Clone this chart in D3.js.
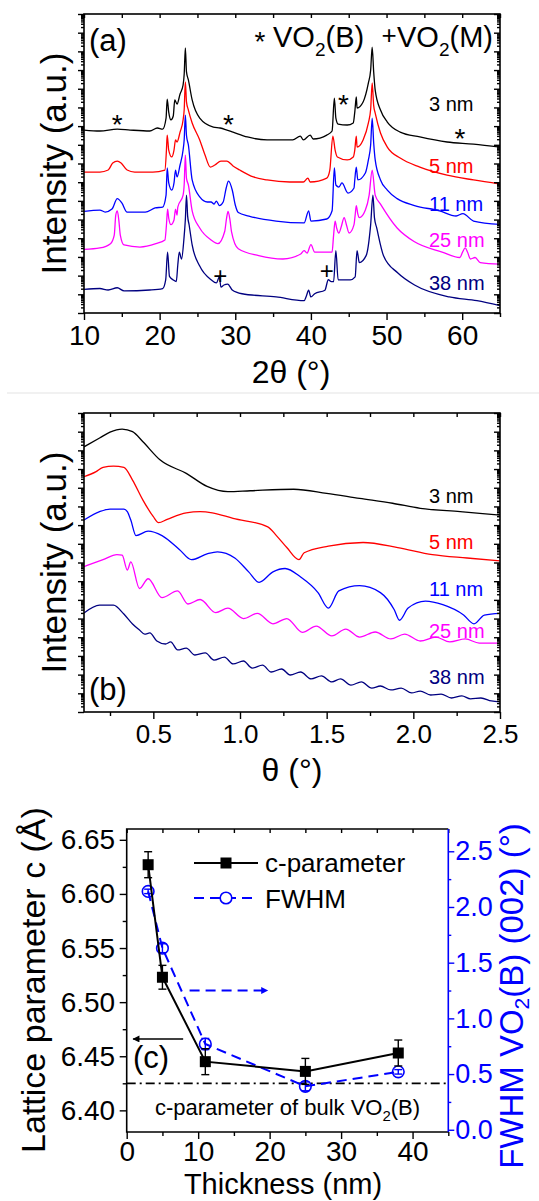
<!DOCTYPE html>
<html>
<head>
<meta charset="utf-8">
<script src="https://cdn.jsdelivr.net/npm/d3@7"></script>
<style>
  body { margin: 0; background: #fff; }
  svg { display: block; font-family: "Liberation Sans", Arial, sans-serif; }
</style>
</head>
<body>
<svg id="fig" width="539" height="1201"></svg>
<script>
// ---- data -------------------------------------------------------------
// (a) XRD, [2theta (deg), log10 intensity (decades, offset per film)]
var xrd3nm = [[10,9.79],[12.1,9.74],[14.4,9.84],[16.1,9.79],[18.7,9.74],[19.7,9.9],[20.4,9.84],[20.85,10.43],[21.0,11.45],[21.2,10.75],[21.5,10.33],[21.8,10.54],[22.0,11.4],[22.3,11.18],[22.7,11.72],[23.1,12.2],[23.25,12.8],[23.4,14.18],[23.55,12.9],[23.8,12.47],[24.3,11.4],[25.3,10.43],[27.1,9.95],[28.0,9.9],[28.9,9.79],[29.7,9.68],[31.6,9.42],[34.2,9.26],[37.6,9.26],[38.6,9.47],[39.0,9.26],[39.9,9.52],[40.3,9.31],[42.1,9.52],[42.8,9.74],[43.1,11.5],[43.3,10.43],[43.6,10.11],[44.8,10.06],[45.6,10.17],[45.8,10.75],[46.0,11.56],[46.1,10.97],[46.9,11.29],[47.6,12.31],[47.9,13.0],[48.1,14.23],[48.3,12.9],[48.5,11.93],[49.2,10.86],[50.1,10.22],[51.8,9.68],[54.4,9.42],[58.0,9.15],[61.5,9.04],[65,8.88]];
var xrd5nm = [[10,7.54],[12.1,7.54],[13.2,7.65],[13.8,8.03],[14.4,8.13],[14.9,8.03],[15.7,7.65],[16.7,7.54],[19.1,7.54],[20.7,7.65],[20.9,8.72],[21.0,9.52],[21.2,8.72],[21.6,8.35],[21.9,8.72],[22.1,9.26],[22.3,9.15],[22.7,9.68],[23.1,10.33],[23.25,10.9],[23.4,12.36],[23.55,11.3],[23.8,10.86],[24.3,10.17],[25.3,9.26],[26.0,8.45],[26.7,7.81],[27.3,7.92],[28.1,8.13],[28.9,8.13],[29.7,7.87],[30.6,7.65],[32.4,7.28],[34.2,7.12],[37.2,7.01],[39.0,7.01],[39.6,7.22],[39.9,7.01],[42.1,7.22],[42.5,7.65],[42.9,9.47],[43.2,8.72],[43.5,8.35],[44.8,8.19],[45.6,8.35],[45.8,8.72],[46.0,9.47],[46.1,8.88],[46.9,9.26],[47.6,10.17],[47.9,10.9],[48.1,12.31],[48.3,11.1],[48.5,10.7],[49.2,9.63],[50.1,8.88],[51.8,8.29],[54.4,7.81],[58.0,7.38],[61.5,7.12],[65,6.9]];
var xrd11nm = [[10,5.44],[12.1,5.51],[12.8,5.4],[13.7,5.56],[14.4,6.12],[15.0,5.89],[15.7,5.4],[18.1,5.4],[19.4,5.62],[20.4,5.67],[20.85,6.31],[21.0,7.76],[21.2,6.96],[21.6,6.58],[21.9,6.96],[22.1,7.65],[22.3,7.28],[22.7,7.92],[23.1,8.72],[23.25,9.3],[23.4,10.59],[23.55,9.5],[23.8,8.99],[24.3,7.12],[25.3,6.21],[26.3,5.94],[26.8,5.94],[27.2,5.83],[27.5,5.99],[27.9,5.75],[28.4,5.94],[28.8,6.69],[29.1,7.06],[29.6,6.58],[30.0,5.78],[30.4,5.38],[31.8,5.19],[35.4,4.92],[39.1,4.82],[39.7,5.47],[40.0,4.92],[42.1,5.03],[42.8,5.47],[43.1,7.76],[43.3,6.85],[43.7,6.74],[44.1,6.96],[44.9,6.42],[45.7,6.69],[45.8,7.12],[46.0,7.81],[46.2,7.12],[47.2,7.49],[47.6,8.19],[47.9,9.0],[48.1,10.43],[48.3,9.1],[48.5,8.19],[49.2,7.12],[50.1,6.58],[51.4,6.12],[53.7,5.75],[57.0,5.47],[59.2,5.19],[60.1,5.32],[61.5,4.92],[65,4.74]];
var xrd25nm = [[10,3.4],[12.1,3.48],[13.5,3.71],[14.0,4.17],[14.2,5.24],[14.4,5.47],[14.6,4.98],[14.8,4.17],[15.3,3.64],[17.4,3.53],[19.5,3.71],[20.7,3.91],[20.9,4.71],[21.05,5.56],[21.2,5.08],[21.5,4.73],[21.9,4.98],[22.1,5.56],[22.3,5.24],[22.4,5.67],[23.1,6.31],[23.25,6.9],[23.4,8.45],[23.55,7.2],[23.8,6.85],[24.3,5.47],[25.3,4.55],[26.8,3.91],[27.7,3.71],[28.6,4.36],[28.85,5.08],[29.05,5.44],[29.3,4.98],[29.5,4.36],[30.4,3.44],[33.1,3.07],[36.3,2.89],[38.65,3.16],[39.1,3.34],[39.5,3.21],[40.0,3.66],[40.5,3.26],[42.8,3.26],[43.0,4.17],[43.2,4.92],[43.4,4.55],[43.7,4.28],[44.0,4.6],[44.4,5.1],[44.7,4.71],[45.05,4.28],[45.7,4.73],[45.85,5.24],[46.0,5.75],[46.2,5.3],[46.4,5.1],[47.2,5.51],[47.7,6.31],[48.1,7.65],[48.5,6.31],[49.2,5.83],[51.4,4.55],[53.7,3.81],[57.35,3.26],[59.7,2.97],[60.05,3.26],[60.4,3.48],[60.7,3.26],[61.1,2.89],[61.7,2.97],[62.4,2.7],[65,2.61]];
var xrd38nm = [[10,1.26],[12.1,1.31],[13.2,1.23],[14.4,1.35],[15.3,1.18],[18.7,1.23],[20.4,1.31],[20.8,1.77],[21.05,3.26],[21.3,1.96],[21.8,1.77],[22.2,1.68],[22.4,2.57],[22.6,3.26],[22.9,2.89],[23.2,3.91],[23.4,5.0],[23.55,6.31],[23.7,5.2],[23.9,4.71],[24.3,3.64],[25.3,2.51],[26.8,1.78],[27.5,1.61],[27.9,1.93],[28.1,1.39],[28.5,1.5],[29.0,1.55],[29.6,1.23],[30.9,1.03],[35.4,0.86],[39.1,0.66],[39.4,0.91],[39.7,1.22],[40.0,0.86],[40.5,1.03],[41.85,1.22],[42.3,1.78],[42.7,1.68],[43.0,1.68],[43.3,3.34],[43.6,1.78],[45.2,1.77],[45.85,1.93],[46.1,3.34],[46.4,2.7],[47.3,3.07],[47.9,4.73],[48.2,6.31],[48.4,5.1],[48.7,4.55],[49.6,3.07],[51.5,2.14],[53.7,1.5],[58.3,0.86],[61.95,0.66],[65,0.39]];

// (b) XRR, [theta (deg), log10 intensity]
var xrr3nm = [[0.1,14.19],[0.19,14.66],[0.25,14.98],[0.32,15.14],[0.38,15.0],[0.44,14.46],[0.54,13.48],[0.69,12.77],[0.81,12.07],[0.93,11.79],[1.06,11.84],[1.31,11.92],[1.5,11.7],[1.69,11.43],[1.88,11.17],[2.04,10.9],[2.27,10.72],[2.5,10.54]];
var xrr5nm = [[0.1,12.59],[0.17,12.86],[0.21,13.09],[0.27,13.16],[0.33,13.09],[0.38,12.41],[0.44,11.34],[0.5,10.45],[0.53,10.13],[0.58,10.31],[0.69,10.66],[0.77,10.72],[0.84,10.66],[0.96,10.36],[1.16,9.91],[1.21,9.44],[1.27,8.8],[1.34,8.15],[1.37,8.52],[1.51,8.88],[1.71,9.07],[1.91,8.8],[2.11,8.42],[2.31,8.24],[2.5,8.09]];
var xrr11nm = [[0.1,10.27],[0.19,10.72],[0.25,10.86],[0.33,10.86],[0.35,10.72],[0.37,10.27],[0.4,9.44],[0.47,9.68],[0.55,9.44],[0.65,8.7],[0.72,8.15],[0.81,8.46],[0.87,8.57],[0.97,8.24],[1.05,7.5],[1.11,6.94],[1.19,7.5],[1.26,7.68],[1.35,7.22],[1.45,6.39],[1.51,5.56],[1.57,6.48],[1.69,6.76],[1.81,6.39],[1.89,5.47],[1.92,4.91],[1.97,5.56],[2.07,5.93],[2.17,5.74],[2.29,5.19],[2.35,4.72],[2.41,5.19],[2.5,5.28]];
var xrr25nm = [[0.1,7.78],[0.21,8.15],[0.29,8.42],[0.32,8.39],[0.35,7.6],[0.37,8.03],[0.42,6.61],[0.47,7.13],[0.55,6.12],[0.64,6.48],[0.7,5.78],[0.77,6.02],[0.86,5.32],[0.93,5.56],[1.02,5.0],[1.1,5.28],[1.19,4.72],[1.27,5.0],[1.36,4.26],[1.44,4.6],[1.53,4.07],[1.61,4.44],[1.69,4.01],[1.78,4.28],[1.87,3.91],[1.95,4.17],[2.04,3.8],[2.13,4.01],[2.21,3.75],[2.3,3.91],[2.38,3.69],[2.5,3.69]];
var xrr38nm = [[0.1,5.3],[0.19,5.72],[0.27,5.72],[0.33,5.24],[0.38,4.71],[0.42,4.39],[0.45,4.17],[0.48,4.23],[0.52,3.8],[0.57,3.64],[0.6,3.75],[0.64,3.32],[0.69,3.42],[0.74,3.05],[0.8,3.16],[0.85,2.78],[0.91,2.94],[0.96,2.57],[1.02,2.73],[1.07,2.35],[1.13,2.51],[1.18,2.14],[1.24,2.3],[1.29,1.98],[1.35,2.14],[1.41,1.77],[1.47,1.93],[1.53,1.61],[1.58,1.77],[1.64,1.44],[1.7,1.61],[1.76,1.28],[1.81,1.39],[1.87,1.18],[1.93,1.28],[1.99,1.02],[2.04,1.12],[2.1,0.91],[2.16,0.96],[2.22,0.75],[2.28,0.86],[2.33,0.7],[2.39,0.75],[2.45,0.59],[2.5,0.54]];

var filmNames = ["3 nm", "5 nm", "11 nm", "25 nm", "38 nm"];
var filmColors = ["#000000", "#ff0000", "#0000ff", "#ff00ff", "#000080"];

// (c) lattice parameter and FWHM vs thickness
var thickness = [3, 5, 11, 25, 38];
var cParam = [6.627, 6.523, 6.445, 6.436, 6.453];
var cErr = [0.012, 0.011, 0.012, 0.012, 0.012];
var fwhm = [2.14, 1.63, 0.77, 0.39, 0.52];
var fwhmErr = [0.02, 0.04, 0.05, 0.04, 0.02];
var cBulk = 6.425;

var ticks2theta = [10, 20, 30, 40, 50, 60];
var ticksTheta = [0.5, 1.0, 1.5, 2.0, 2.5];
var ticksThick = [0, 10, 20, 30, 40];
var ticksC = [6.40, 6.45, 6.50, 6.55, 6.60, 6.65];
var ticksFwhm = [0.0, 0.5, 1.0, 1.5, 2.0, 2.5];

// ---- helpers ----------------------------------------------------------
var svg = d3.select("#fig");
svg.append("rect").attr("width", 539).attr("height", 1201).attr("fill", "#fff");

function tickAxis(axis, tx, ty, values, size, color, labels, fs, pad){
  var g = svg.append("g").attr("transform", "translate(" + tx + "," + ty + ")")
    .call(axis.tickValues(values).tickSize(size).tickPadding(pad || 3)
      .tickFormat(labels || ""));
  g.select(".domain").remove();
  g.attr("font-family", null).attr("font-size", fs || 10);
  g.selectAll("line").attr("stroke", color || "#000").attr("stroke-width", 1.4);
  g.selectAll("text").attr("fill", color || "#000");
  return g;
}

// log-style ticks of the intensity axes (16 decades)
var decMajor = d3.range(0, 17);
var decMinor = [];
d3.range(0, 16).forEach(function(d){
  d3.range(2, 10).forEach(function(k){ decMinor.push(d + Math.log10(k)); });
});

function frame(x0, y0, x1, y1){
  svg.append("rect").attr("x", x0).attr("y", y0)
    .attr("width", x1 - x0).attr("height", y1 - y0)
    .attr("fill", "none").attr("stroke", "#000").attr("stroke-width", 1.6);
}

function stackPanel(opt){
  var x = opt.x, y = opt.y;
  var L = x.range()[0], R = x.range()[1], T = y.range()[1], B = y.range()[0];
  var clipId = "clip" + opt.id;
  svg.append("clipPath").attr("id", clipId).append("rect")
    .attr("x", L).attr("y", T).attr("width", R - L).attr("height", B - T);

  var line = d3.line().curve(d3.curveMonotoneX)
    .x(function(d){ return x(d[0]); }).y(function(d){ return y(d[1]); });
  svg.append("g").attr("clip-path", "url(#" + clipId + ")")
    .selectAll("path").data(opt.series).enter().append("path")
    .attr("d", line)
    .attr("fill", "none")
    .attr("stroke", function(d, i){ return filmColors[i]; })
    .attr("stroke-width", 1.3)
    .attr("stroke-linejoin", "round");

  // left (outward) and right (inward) intensity ticks
  tickAxis(d3.axisLeft(y), L, 0, decMajor, 6);
  tickAxis(d3.axisLeft(y), L, 0, decMinor, 3);
  tickAxis(d3.axisLeft(y), R, 0, decMajor, 6);
  tickAxis(d3.axisLeft(y), R, 0, decMinor, 3);
  // bottom and top
  tickAxis(d3.axisBottom(x), 0, B, opt.major, 7, "#000", opt.fmt, opt.fs, opt.pad);
  tickAxis(d3.axisBottom(x), 0, B, opt.minor, 4);
  tickAxis(d3.axisBottom(x), 0, T, opt.top, 4);
  frame(L, T, R, B);

  svg.append("g").selectAll("text").data(filmNames).enter().append("text")
    .attr("x", 429).attr("y", function(d, i){ return opt.labelY[i]; })
    .attr("font-size", 20)
    .attr("fill", function(d, i){ return filmColors[i]; })
    .text(function(d){ return d; });

  svg.append("text").attr("transform", "translate(66," + ((T + B) / 2) + ") rotate(-90)")
    .attr("text-anchor", "middle").attr("font-size", 35).text("Intensity (a.u.)");
}

// ---- panel (a) --------------------------------------------------------
var xA = d3.scaleLinear().domain([10, 65]).range([84, 500]);
var yA = d3.scaleLinear().domain([0, 16]).range([313, 14]);

stackPanel({
  id: "a", x: xA, y: yA,
  series: [xrd3nm, xrd5nm, xrd11nm, xrd25nm, xrd38nm],
  major: ticks2theta, minor: [15, 25, 35, 45, 55, 65], top: d3.range(10, 66, 5),
  fmt: d3.format("d"), fs: 28, pad: 5,
  labelY: [111, 173, 211, 247, 290]
});

svg.append("text").attr("x", 291).attr("y", 383).attr("text-anchor", "middle")
  .attr("font-size", 32).text("2θ (°)");
svg.append("text").attr("x", 89).attr("y", 51).attr("font-size", 31).text("(a)");

// phase markers
function mark(sym, x, y, fs, shift){
  svg.append("text").attr("x", x).attr("y", y + shift)
    .attr("text-anchor", "middle").attr("font-size", fs).text(sym);
}
[[14.4, 10.43], [29.1, 10.43], [44.3, 11.5], [59.7, 9.68]].forEach(function(p){
  mark("*", xA(p[0]), yA(p[1]), 28, 16);
});
[[28.0, 1.98], [42.1, 2.25]].forEach(function(p){
  mark("+", xA(p[0]), yA(p[1]), 24, 8.5);
});

// header legend
mark("*", 260, 35, 28, 16);
var h1 = svg.append("text").attr("x", 273).attr("y", 47).attr("font-size", 29);
h1.append("tspan").text("VO");
h1.append("tspan").attr("font-size", 19).attr("dy", 9).text("2");
h1.append("tspan").attr("dy", -9).text("(B)");
mark("+", 389, 35, 26, 9);
var h2 = svg.append("text").attr("x", 397).attr("y", 47).attr("font-size", 29);
h2.append("tspan").text("VO");
h2.append("tspan").attr("font-size", 19).attr("dy", 9).text("2");
h2.append("tspan").attr("dy", -9).text("(M)");

// panel separator
svg.append("line").attr("x1", 7).attr("x2", 539).attr("y1", 393).attr("y2", 393)
  .attr("stroke", "#e4e4e4").attr("stroke-width", 1.2);

// ---- panel (b) --------------------------------------------------------
var xB = d3.scaleLinear().domain([0.1, 2.5]).range([84, 500]);
var yB = d3.scaleLinear().domain([0, 16]).range([712, 413]);

stackPanel({
  id: "b", x: xB, y: yB,
  series: [xrr3nm, xrr5nm, xrr11nm, xrr25nm, xrr38nm],
  major: ticksTheta, minor: [0.25, 0.75, 1.25, 1.75, 2.25],
  top: [0.25, 0.5, 0.75, 1.0, 1.25, 1.5, 1.75, 2.0, 2.25, 2.5],
  fmt: d3.format(".1f"), fs: 26, pad: 5.5,
  labelY: [503, 549, 596, 638, 684]
});

svg.append("text").attr("x", 292).attr("y", 781).attr("text-anchor", "middle")
  .attr("font-size", 32).text("θ (°)");
svg.append("text").attr("x", 89).attr("y", 700).attr("font-size", 31).text("(b)");

// ---- panel (c) --------------------------------------------------------
var xC = d3.scaleLinear().domain([0, 45]).range([126.7, 448.3]);
var yC = d3.scaleLinear().domain([6.38, 6.66]).range([1132, 829]);
var yR = d3.scaleLinear().domain([-0.02, 2.7]).range([1132, 829]);
var blue = "#0000ff";

tickAxis(d3.axisBottom(xC), 0, 1132, ticksThick, 7, "#000", d3.format("d"), 28, 2);
tickAxis(d3.axisBottom(xC), 0, 1132, [5, 15, 25, 35, 45], 4);
tickAxis(d3.axisBottom(xC), 0, 829, d3.range(0, 46, 5), 4);
tickAxis(d3.axisLeft(yC), 126.7, 0, ticksC, 7, "#000", d3.format(".2f"), 28, 4.5);
tickAxis(d3.axisLeft(yC), 126.7, 0, [6.425, 6.475, 6.525, 6.575, 6.625], 4);
tickAxis(d3.axisRight(yR), 448.3, 0, ticksFwhm, 6, blue, d3.format(".1f"), 27, 1);
tickAxis(d3.axisRight(yR), 448.3, 0, [0.25, 0.75, 1.25, 1.75, 2.25], 3, blue);

svg.append("path")
  .attr("d", "M448.3,829H126.7V1132H448.3")
  .attr("fill", "none").attr("stroke", "#000").attr("stroke-width", 1.6);
svg.append("line").attr("x1", 448.3).attr("x2", 448.3).attr("y1", 829).attr("y2", 1132)
  .attr("stroke", blue).attr("stroke-width", 1.6);

// bulk reference
svg.append("line").attr("x1", xC(0)).attr("x2", xC(45))
  .attr("y1", yC(cBulk)).attr("y2", yC(cBulk))
  .attr("stroke", "#000").attr("stroke-width", 1.8).attr("stroke-dasharray", "9,4,2,4");
var bulk = svg.append("text").attr("x", 155).attr("y", 1115).attr("font-size", 22);
bulk.append("tspan").text("c-parameter of bulk VO");
bulk.append("tspan").attr("font-size", 15).attr("dy", 6).text("2");
bulk.append("tspan").attr("dy", -6).text("(B)");

var pts = thickness.map(function(t, i){
  return {t: t, c: cParam[i], ce: cErr[i], f: fwhm[i], fe: fwhmErr[i]};
});

// FWHM series
svg.append("path").datum(pts)
  .attr("d", d3.line().x(function(d){ return xC(d.t); }).y(function(d){ return yR(d.f); }))
  .attr("fill", "none").attr("stroke", blue).attr("stroke-width", 2)
  .attr("stroke-dasharray", "10,6");
var fe = svg.append("g").attr("stroke", blue).attr("stroke-width", 1.4);
pts.forEach(function(d){
  var x = xC(d.t);
  fe.append("line").attr("x1", x).attr("x2", x).attr("y1", yR(d.f - d.fe)).attr("y2", yR(d.f + d.fe));
  fe.append("line").attr("x1", x - 4).attr("x2", x + 4).attr("y1", yR(d.f - d.fe)).attr("y2", yR(d.f - d.fe));
  fe.append("line").attr("x1", x - 4).attr("x2", x + 4).attr("y1", yR(d.f + d.fe)).attr("y2", yR(d.f + d.fe));
});
svg.append("g").selectAll("circle").data(pts).enter().append("circle")
  .attr("cx", function(d){ return xC(d.t); }).attr("cy", function(d){ return yR(d.f); })
  .attr("r", 5.8).attr("fill", "none").attr("stroke", blue).attr("stroke-width", 1.6);

// c-parameter series
svg.append("path").datum(pts)
  .attr("d", d3.line().x(function(d){ return xC(d.t); }).y(function(d){ return yC(d.c); }))
  .attr("fill", "none").attr("stroke", "#000").attr("stroke-width", 2);
var ce = svg.append("g").attr("stroke", "#000").attr("stroke-width", 1.4);
pts.forEach(function(d){
  var x = xC(d.t);
  ce.append("line").attr("x1", x).attr("x2", x).attr("y1", yC(d.c - d.ce)).attr("y2", yC(d.c + d.ce));
  ce.append("line").attr("x1", x - 4).attr("x2", x + 4).attr("y1", yC(d.c - d.ce)).attr("y2", yC(d.c - d.ce));
  ce.append("line").attr("x1", x - 4).attr("x2", x + 4).attr("y1", yC(d.c + d.ce)).attr("y2", yC(d.c + d.ce));
});
svg.append("g").selectAll("rect").data(pts).enter().append("rect")
  .attr("x", function(d){ return xC(d.t) - 5.5; }).attr("y", function(d){ return yC(d.c) - 5.5; })
  .attr("width", 11).attr("height", 11).attr("fill", "#000");

// arrows pointing to the axis each series belongs to
var defs = svg.append("defs");
[["arrK", "#000"], ["arrB", blue]].forEach(function(a){
  defs.append("marker").attr("id", a[0]).attr("viewBox", "0 0 10 10")
    .attr("refX", 9).attr("refY", 5).attr("markerWidth", 9).attr("markerHeight", 7)
    .attr("markerUnits", "userSpaceOnUse").attr("orient", "auto")
    .append("path").attr("d", "M0,0L10,5L0,10z").attr("fill", a[1]);
});
svg.append("line").attr("x1", xC(8.8)).attr("x2", xC(19.7))
  .attr("y1", yR(1.25)).attr("y2", yR(1.25))
  .attr("stroke", blue).attr("stroke-width", 2).attr("stroke-dasharray", "10,6")
  .attr("marker-end", "url(#arrB)");
svg.append("line").attr("x1", xC(7.9)).attr("x2", xC(0.9))
  .attr("y1", yC(6.466)).attr("y2", yC(6.466))
  .attr("stroke", "#000").attr("stroke-width", 1.6)
  .attr("marker-end", "url(#arrK)");

// legend
svg.append("line").attr("x1", 194).attr("x2", 258).attr("y1", 863).attr("y2", 863)
  .attr("stroke", "#000").attr("stroke-width", 2);
svg.append("rect").attr("x", 220.5).attr("y", 857.5).attr("width", 11).attr("height", 11).attr("fill", "#000");
svg.append("text").attr("x", 265).attr("y", 872).attr("font-size", 26).text("c-parameter");
svg.append("line").attr("x1", 194).attr("x2", 258).attr("y1", 898).attr("y2", 898)
  .attr("stroke", blue).attr("stroke-width", 2).attr("stroke-dasharray", "10,6");
svg.append("circle").attr("cx", 226).attr("cy", 898).attr("r", 5.8)
  .attr("fill", "#fff").attr("stroke", blue).attr("stroke-width", 1.6);
svg.append("text").attr("x", 265).attr("y", 908).attr("font-size", 26).text("FWHM");

svg.append("text").attr("x", 133).attr("y", 1068).attr("font-size", 31).text("(c)");

// axis titles
svg.append("text").attr("x", 283).attr("y", 1194).attr("text-anchor", "middle")
  .attr("font-size", 29).text("Thickness (nm)");
svg.append("text").attr("transform", "translate(45,980) rotate(-90)")
  .attr("text-anchor", "middle").attr("font-size", 34).text("Lattice parameter c (Å)");
var rt = svg.append("text").attr("transform", "translate(523,996) rotate(-90)")
  .attr("text-anchor", "middle").attr("font-size", 33).attr("fill", blue);
rt.append("tspan").text("FWHM VO");
rt.append("tspan").attr("font-size", 21).attr("dy", 6).text("2");
rt.append("tspan").attr("dy", -6).text("(B) (002) (°)");
</script>
</body>
</html>
